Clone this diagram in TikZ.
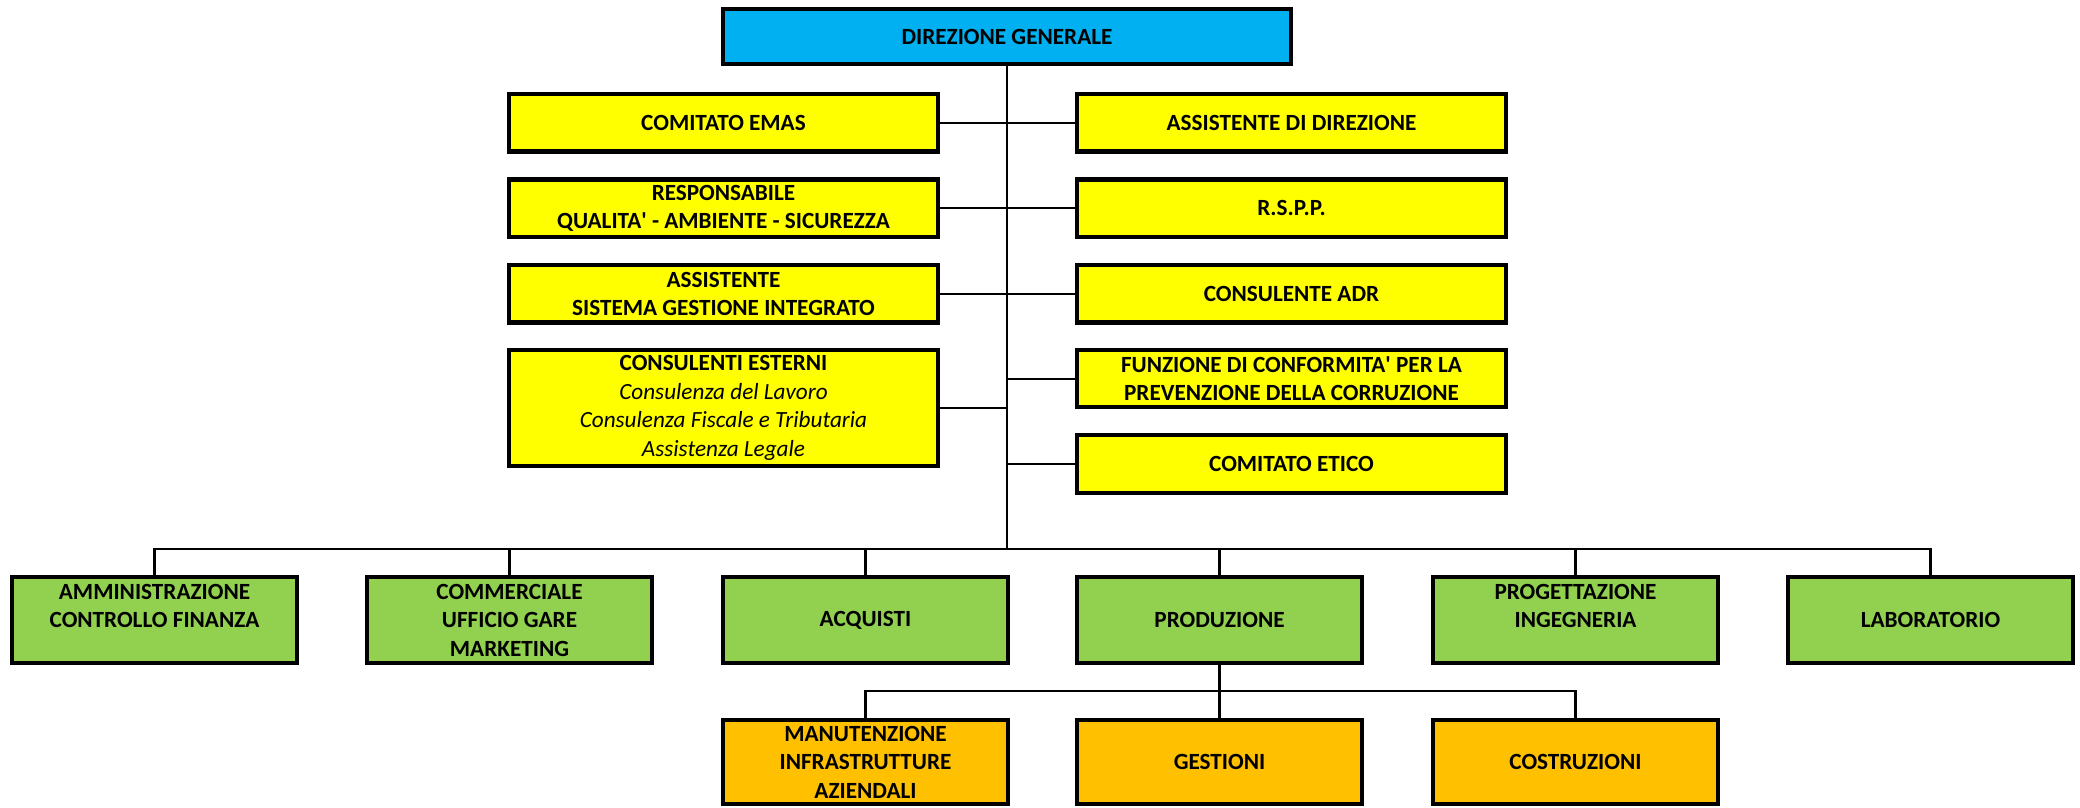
\documentclass[tikz,border=0pt]{standalone}
\usepackage{fontspec}
\setmainfont{Carlito}
\definecolor{dgblue}{HTML}{00B0F0}
\definecolor{staffyellow}{HTML}{FFFF00}
\definecolor{areagreen}{HTML}{92D050}
\definecolor{unitorange}{HTML}{FFC000}
\tikzset{every node/.style={rectangle,draw,line width=1.2pt,inner sep=0pt,align=center,
    font=\fontsize{6.6}{8.1}\selectfont\bfseries}}
\tikzset{dir/.style={fill=dgblue,minimum width=5.68cm,minimum height=0.55cm}}
\tikzset{staff/.style={fill=staffyellow,minimum width=4.29cm,minimum height=0.575cm}}
\tikzset{area/.style={fill=areagreen,minimum width=2.85cm,minimum height=0.86cm}}
\tikzset{unit/.style={fill=unitorange,minimum width=2.85cm,minimum height=0.84cm}}
\tikzset{conn/.style={line width=0.6pt}}
\newcommand{\apo}{\textquotesingle}

\begin{document}
\begin{tikzpicture}
      \useasboundingbox (0,0) rectangle (20.8,-8.08);
      \node[dir] (dg) at (10.07,-0.365) {DIREZIONE GENERALE};
      % staff
      \node[staff] (emas) at (7.235,-1.227) {COMITATO EMAS};
      \node[staff] (assdir) at (12.915,-1.227) {ASSISTENTE DI DIREZIONE};
      \node[staff] (resp) at (7.235,-2.083) {RESPONSABILE\\QUALITA\apo{} - AMBIENTE - SICUREZZA};
      \node[staff] (rspp) at (12.915,-2.083) {R.S.P.P.};
      \node[staff] (sgi) at (7.235,-2.938) {ASSISTENTE\\SISTEMA GESTIONE INTEGRATO};
      \node[staff] (adr) at (12.915,-2.938) {CONSULENTE ADR};
      \node[staff,minimum height=1.16cm] (cons) at (7.235,-4.08) {CONSULENTI ESTERNI\\
        {\mdseries\itshape Consulenza del Lavoro}\\
        {\mdseries\itshape Consulenza Fiscale e Tributaria}\\
        {\mdseries\itshape Assistenza Legale}};
      \node[staff] (funz) at (12.915,-3.786) {FUNZIONE DI CONFORMITA\apo{} PER LA\\PREVENZIONE DELLA CORRUZIONE};
      \node[staff] (etico) at (12.915,-4.64) {COMITATO ETICO};
      % areas
      \node[area] (amm) at (1.545,-6.2) {AMMINISTRAZIONE\\CONTROLLO FINANZA\\\mbox{}};
      \node[area] (comm) at (5.095,-6.2) {COMMERCIALE\\UFFICIO GARE\\MARKETING};
      \node[area] (acq) at (8.655,-6.2) {ACQUISTI};
      \node[area] (prod) at (12.195,-6.2) {PRODUZIONE};
      \node[area] (prog) at (15.755,-6.2) {PROGETTAZIONE\\INGEGNERIA\\\mbox{}};
      \node[area] (lab) at (19.305,-6.2) {LABORATORIO};
      % units
      \node[unit] (manut) at (8.655,-7.62) {MANUTENZIONE\\INFRASTRUTTURE\\AZIENDALI};
      \node[unit] (gest) at (12.195,-7.62) {GESTIONI};
      \node[unit] (costr) at (15.755,-7.62) {COSTRUZIONI};
      \coordinate (bus) at (10.07,-5.49);
      \coordinate (sub) at (12.195,-6.91);

      \draw[conn] (dg) -- (bus);
      \foreach \a/\b in {emas/assdir,resp/rspp,sgi/adr}
        \draw[conn] (\a) -- (\b);
      \draw[conn] (cons.east) -- (cons.east -| dg.south);
      \foreach \a in {funz,etico}
        \draw[conn] (\a.west) -- (\a.west -| dg.south);
      \foreach \a in {amm,comm,acq,prod,prog,lab}
        \draw[conn] (\a) |- (bus);
      \draw[conn] (prod) -- (sub);
      \foreach \a in {manut,gest,costr}
        \draw[conn] (\a) |- (sub);
    \end{tikzpicture}
\end{document}
